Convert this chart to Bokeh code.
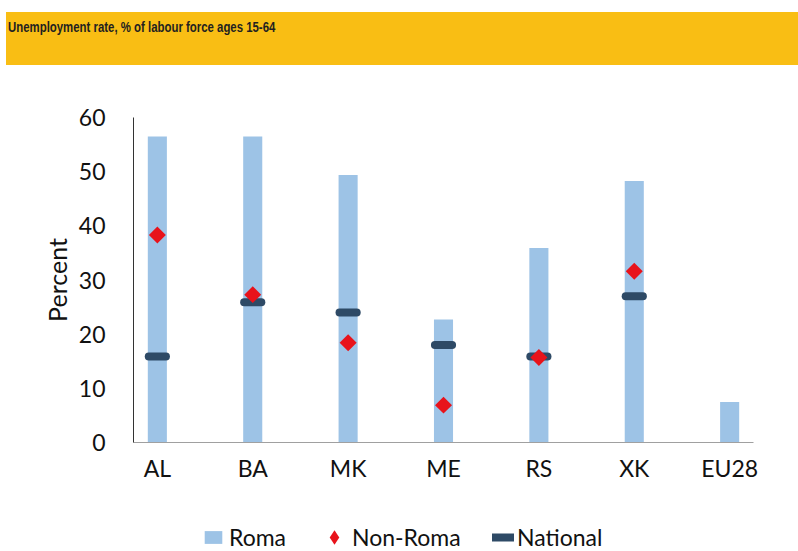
from bokeh.plotting import figure
from bokeh.models import Range1d, FixedTicker, Legend, LegendItem, Div
from bokeh.layouts import column
from bokeh.embed import file_html
from bokeh.resources import INLINE

categories = ["AL", "BA", "MK", "ME", "RS", "XK", "EU28"]
roma = [56.5, 56.5, 49.4, 22.7, 35.9, 48.3, 7.5]
non_roma_cats = ["AL", "BA", "MK", "ME", "RS", "XK"]
non_roma = [38.3, 27.3, 18.4, 6.9, 15.7, 31.6]
national = [15.9, 25.9, 24.0, 18.0, 15.9, 27.0]
y_ticks = [0, 10, 20, 30, 40, 50, 60]

xpos = list(range(len(categories)))
xpos6 = [categories.index(c) for c in non_roma_cats]

FONT = "Lato"
ROMA_C = "#9DC3E6"
NON_C = "#E8131B"
NAT_C = "#2E4A66"

header = Div(
    text=('<span style="display:inline-block; transform:scaleX(0.76); transform-origin:left top; '
          'white-space:nowrap;">Unemployment rate, % of labour force ages 15-64</span>'),
    width=792, height=53, margin=(12, 0, 0, 6),
    styles={"background-color": "#F9BE14",
            "font-family": "'Liberation Sans', Arial, sans-serif",
            "font-weight": "bold", "font-size": "15px", "color": "#231f20",
            "padding": "4px 0 0 2px", "box-sizing": "border-box"})

p = figure(width=795, height=455, output_backend="svg", toolbar_location=None,
           x_range=Range1d(-0.25, 6.25), y_range=Range1d(0, 60),
           min_border_left=133, min_border_right=42, min_border_top=52, min_border_bottom=78,
           margin=0)
p.outline_line_color = None
p.xgrid.visible = False
p.ygrid.visible = False
p.background_fill_color = "white"
p.border_fill_color = "white"

p.vbar(x=xpos, top=roma, bottom=0, width=0.2, fill_color=ROMA_C, line_color=None)
p.segment(x0=[x - 0.09 for x in xpos6], x1=[x + 0.09 for x in xpos6],
          y0=national, y1=national, line_color=NAT_C, line_width=8, line_cap="round")
p.scatter(x=xpos6, y=non_roma, marker="square", size=12, angle=0.785398,
          fill_color=NON_C, line_color=None)

p.xaxis.ticker = FixedTicker(ticks=xpos)
p.xaxis.major_label_overrides = {i: c for i, c in enumerate(categories)}
p.yaxis.ticker = FixedTicker(ticks=y_ticks)
for ax in (p.xaxis[0], p.yaxis[0]):
    ax.major_tick_line_color = None
    ax.minor_tick_line_color = None
    ax.major_label_text_font = FONT
    ax.major_label_text_font_size = "23px"
    ax.major_label_text_color = "#111111"
p.xaxis.axis_line_color = "#A0A0A0"
p.yaxis.axis_line_color = "#333333"
p.xaxis.major_label_standoff = 5
p.yaxis.major_label_standoff = 22
p.yaxis.axis_label = "Percent"
p.yaxis.axis_label_text_font = FONT
p.yaxis.axis_label_text_font_size = "25px"
p.yaxis.axis_label_text_font_style = "normal"
p.yaxis.axis_label_text_color = "#111111"
p.yaxis.axis_label_standoff = 4

# legend strip: a separate figure whose proxy glyphs lie outside its visible range
lg = figure(width=795, height=31, output_backend="svg", toolbar_location=None,
            x_range=Range1d(100, 101), y_range=Range1d(100, 101),
            min_border_left=133, min_border_right=42, min_border_top=0, min_border_bottom=0,
            margin=0)
lg.axis.visible = False
lg.grid.visible = False
lg.outline_line_color = None
lg.border_fill_color = "white"
l_roma = lg.vbar(x=xpos[:1], top=roma[:1], width=0.2, fill_color=ROMA_C, line_color=None)
l_non = lg.scatter(x=xpos6[:1], y=non_roma[:1], marker="diamond", size=12,
                   fill_color=NON_C, line_color=None)
l_nat = lg.segment(x0=xpos6[:1], x1=xpos6[:1], y0=national[:1], y1=national[:1],
                   line_color=NAT_C, line_width=8, line_cap="round")

common = dict(orientation="horizontal", border_line_color=None, background_fill_alpha=0,
              label_text_font=FONT, label_text_font_size="23px", label_text_color="#111111",
              padding=0, margin=0)
leg1 = Legend(items=[LegendItem(label="Roma", renderers=[l_roma])], location=(69, 0),
              glyph_width=22, glyph_height=16, label_standoff=5, **common)
leg2 = Legend(items=[LegendItem(label="Non-Roma", renderers=[l_non])], location=(183, -4),
              glyph_width=36, glyph_height=36, label_standoff=0, **common)
leg3 = Legend(items=[LegendItem(label="National", renderers=[l_nat])], location=(359, 0),
              glyph_width=22, glyph_height=16, label_standoff=3, **common)
for lgd in (leg1, leg2, leg3):
    lg.add_layout(lgd, "center")

layout = column(header, p, lg, spacing=0)
open("out.html", "w").write(file_html(layout, INLINE))
